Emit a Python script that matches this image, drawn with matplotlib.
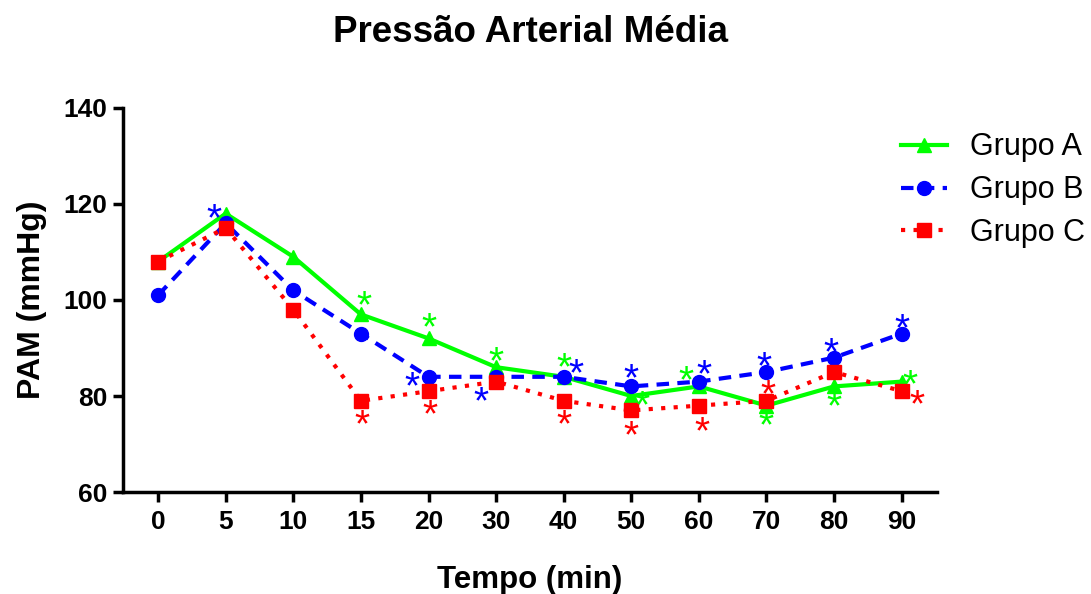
import matplotlib.pyplot as plt
import numpy as np

plt.rcParams['font.family'] = ['Liberation Sans', 'DejaVu Sans']

tempos = ['0', '5', '10', '15', '20', '30', '40', '50', '60', '70', '80', '90']

grupo_a = [108, 118, 109, 97, 92, 86, 84, 80, 82, 78, 82, 83]
grupo_b = [101, 116, 102, 93, 84, 84, 84, 82, 83, 85, 88, 93]
grupo_c = [108, 115, 98, 79, 81, 83, 79, 77, 78, 79, 85, 81]

# asterisks: (index of point, dx, dy) offsets in pixels, dy positive = down
stars_a = [(3, 3, -16), (4, 0, -18), (5, 0, -13), (6, 0, -16), (7, 11, 3),
           (8, -13, -13), (9, 0, 13), (10, 0, 13), (11, 8, -4)]
stars_b = [(1, -12, -12), (4, -17, 3), (5, -15, 18), (6, 12, -10), (7, 0, -15),
           (8, 5, -14), (9, -2, -12), (10, -3, -12), (11, 0, -12)]
stars_c = [(3, 1, 17), (4, 1, 16), (6, 0, 17), (7, 0, 18), (8, 3, 19),
           (9, 2, -13), (11, 15, 6)]

x = np.arange(len(tempos))

fig = plt.figure(figsize=(10.91, 5.94), dpi=100)
ax = fig.add_axes([0.1127, 0.1717, 0.746, 0.6465])

ax.plot(x, grupo_a, color='#00ff00', lw=3, marker='^', ms=10,
        label='Grupo A', zorder=3)
ax.plot(x, grupo_b, color='#0000ff', lw=3, marker='o', ms=10,
        dashes=(3, 2), label='Grupo B', zorder=4)
ax.plot(x, grupo_c, color='#ff0000', lw=3, marker='s', ms=10,
        dashes=(1, 2), label='Grupo C', zorder=5)

star_size = 28
# the '*' glyph centre sits roughly half an em over the baseline
lift = 0.48 * star_size * 100 / 72


def add_stars(values, stars, color):
    for i, dx, dy in stars:
        ax.annotate('*', xy=(x[i], values[i]), xytext=(dx, -dy - lift),
                    textcoords='offset pixels', ha='center', va='baseline',
                    color=color, fontsize=star_size, zorder=6)


add_stars(grupo_a, stars_a, '#00ff00')
add_stars(grupo_b, stars_b, '#0000ff')
add_stars(grupo_c, stars_c, '#ff0000')

ax.set_xlim(-0.52, 11.52)
ax.set_ylim(60, 140)
ax.set_xticks(x)
ax.set_xticklabels(tempos)
ax.set_yticks([60, 80, 100, 120, 140])

for lab in ax.get_xticklabels() + ax.get_yticklabels():
    lab.set_fontweight('bold')
ax.tick_params(axis='both', labelsize=19, width=2.5, length=7, direction='out')
ax.tick_params(axis='y', pad=4)
ax.tick_params(axis='x', pad=6)

ax.spines['top'].set_visible(False)
ax.spines['right'].set_visible(False)
ax.spines['left'].set_linewidth(2.5)
ax.spines['bottom'].set_linewidth(2.5)

ax.set_xlabel('Tempo (min)', fontsize=22.5, fontweight='bold', labelpad=22)
ax.set_ylabel('PAM (mmHg)', fontsize=23, fontweight='bold', labelpad=12)
fig.text(0.486, 0.945, 'Pressão Arterial Média', fontsize=26.5,
         fontweight='bold', ha='center', va='center')

ax.legend(loc='upper left', bbox_to_anchor=(0.826, 0.777),
          bbox_transform=fig.transFigure, frameon=False,
          fontsize=22, handlelength=1.5, handletextpad=0.75, labelspacing=0.42,
          borderaxespad=0, borderpad=0)

fig.savefig('out.png', dpi=100)
